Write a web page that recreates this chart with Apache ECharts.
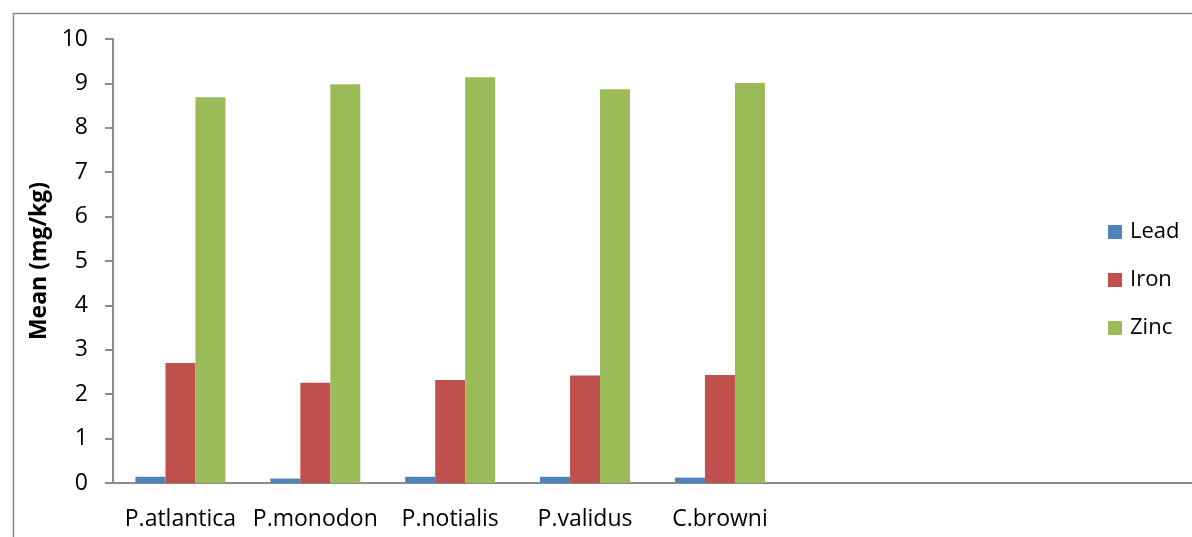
<!DOCTYPE html>
<html>
<head>
<meta charset="utf-8">
<script src="https://cdn.jsdelivr.net/npm/echarts@6/dist/echarts.min.js"></script>
<style>html,body{margin:0;padding:0;background:#fff;}#c{width:1192px;height:537px;}</style>
</head>
<body>
<div id="c"></div>
<script>
var categories = ['P.atlantica', 'P.monodon', 'P.notialis', 'P.validus', 'C.browni', '', '', ''];
var lead = [0.14, 0.10, 0.14, 0.14, 0.12];
var iron = [2.70, 2.26, 2.32, 2.42, 2.43];
var zinc = [8.69, 8.98, 9.14, 8.87, 9.01];
var yTicks = [0, 10, 1];

var FONT = '"Open Sans", sans-serif';
var chart = echarts.init(document.getElementById('c'), null, {renderer: 'canvas'});
chart.setOption({
  animation: false,
  backgroundColor: '#fff',
  graphic: [{
    type: 'rect', left: 11, top: 11, shape: {width: 1300, height: 700},
    style: {fill: 'none', stroke: '#8a8a8a', lineWidth: 1.5}, silent: true, z: -1
  }],
  grid: {left: 113, top: 39, right: 0, bottom: 54, containLabel: false},
  legend: {
    orient: 'vertical', left: 1108, top: 221, padding: 0,
    itemWidth: 14, itemHeight: 14, itemGap: 26, icon: 'rect',
    textStyle: {fontFamily: FONT, fontSize: 22, color: '#000', padding: [0, 0, 0, 3]},
    data: ['Lead', 'Iron', 'Zinc']
  },
  xAxis: {
    type: 'category', data: categories,
    axisLine: {lineStyle: {color: '#8c8c8c', width: 2}},
    axisTick: {show: false},
    axisLabel: {fontFamily: FONT, fontSize: 23, color: '#000', margin: 25, interval: 0}
  },
  yAxis: {
    type: 'value', min: yTicks[0], max: yTicks[1], interval: yTicks[2],
    name: 'Mean (mg/kg)', nameLocation: 'middle', nameRotate: 90, nameGap: 61,
    nameTextStyle: {fontFamily: FONT, fontSize: 23, fontWeight: 'bold', color: '#000'},
    axisLine: {show: true, lineStyle: {color: '#8c8c8c', width: 2}},
    axisTick: {show: true, inside: false, length: 8, lineStyle: {color: '#8c8c8c', width: 2}},
    splitLine: {show: false},
    axisLabel: {fontFamily: FONT, fontSize: 23, color: '#000', margin: 25}
  },
  series: [
    {name: 'Lead', type: 'bar', data: lead, barGap: '0%', barCategoryGap: '33.3%', itemStyle: {color: '#4F81BD'}},
    {name: 'Iron', type: 'bar', data: iron, barGap: '0%', barCategoryGap: '33.3%', itemStyle: {color: '#C0504D'}},
    {name: 'Zinc', type: 'bar', data: zinc, barGap: '0%', barCategoryGap: '33.3%', itemStyle: {color: '#9BBB59'}}
  ]
});
</script>
</body>
</html>
